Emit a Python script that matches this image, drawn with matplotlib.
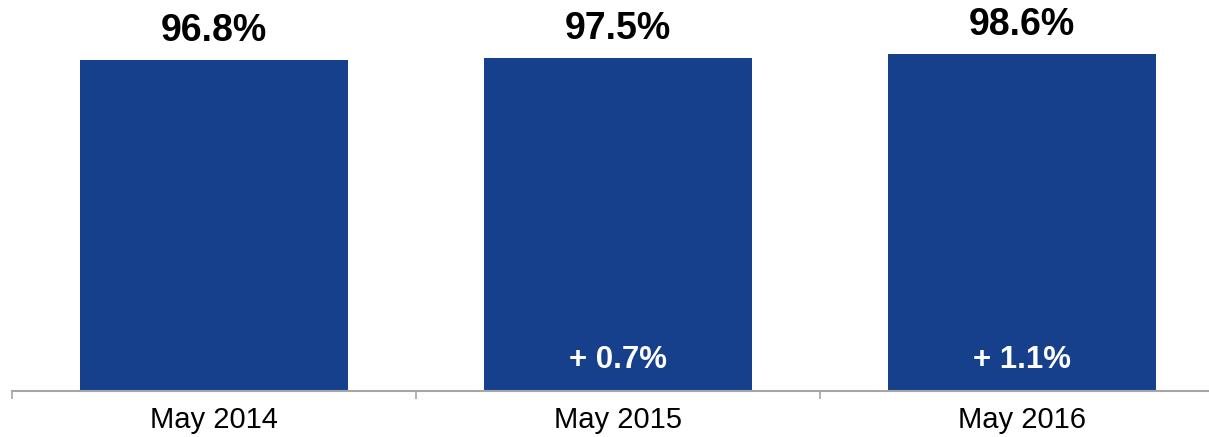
import matplotlib
matplotlib.use("Agg")
import numpy as np
from matplotlib import pyplot as plt

# values
categories = ["May 2014", "May 2015", "May 2016"]
values = [96.8, 97.5, 98.6]
changes = [None, 0.7, 1.1]

plt.rcParams['font.family'] = ['Liberation Sans', 'DejaVu Sans']

fig = plt.figure(figsize=(12.09, 4.37), dpi=100)
ax = fig.add_axes([12 / 1209, 1 - 391 / 437, 1212 / 1209, 341.8 / 437])

x = np.arange(len(categories))
bars = ax.bar(x, values, width=0.665, color="#163F8C", zorder=2)

ax.set_xlim(-0.5, len(categories) - 0.5)
ax.set_ylim(0, 100)

for rect, val, chg in zip(bars, values, changes):
    cx = rect.get_x() + rect.get_width() / 2
    ax.annotate(f"{val:.1f}%", (cx, rect.get_height()), xytext=(0, 13.5),
                textcoords="offset points", ha="center", va="baseline",
                fontsize=27, fontweight="bold", color="black")
    if chg is not None:
        ax.annotate(f"+ {chg:.1f}%", (cx, 0), xytext=(0, 16.5),
                    textcoords="offset points", ha="center", va="baseline",
                    fontsize=22.5, fontweight="bold", color="white")

# separators between categories, labels in the middle
ax.set_xticks(np.arange(len(categories) + 1) - 0.5)
ax.set_xticklabels([])
ax.set_xticks(x, minor=True)
ax.set_xticklabels(categories, minor=True, fontsize=21)
ax.tick_params(axis="x", which="major", length=6, width=1.2, color="#A6A6A6", direction="out")
ax.tick_params(axis="x", which="minor", length=0, pad=11)
ax.set_yticks([])

for side in ["top", "right", "left"]:
    ax.spines[side].set_visible(False)
ax.spines["bottom"].set_color("#A6A6A6")
ax.spines["bottom"].set_linewidth(1.5)

fig.savefig("out.png", dpi=100)
